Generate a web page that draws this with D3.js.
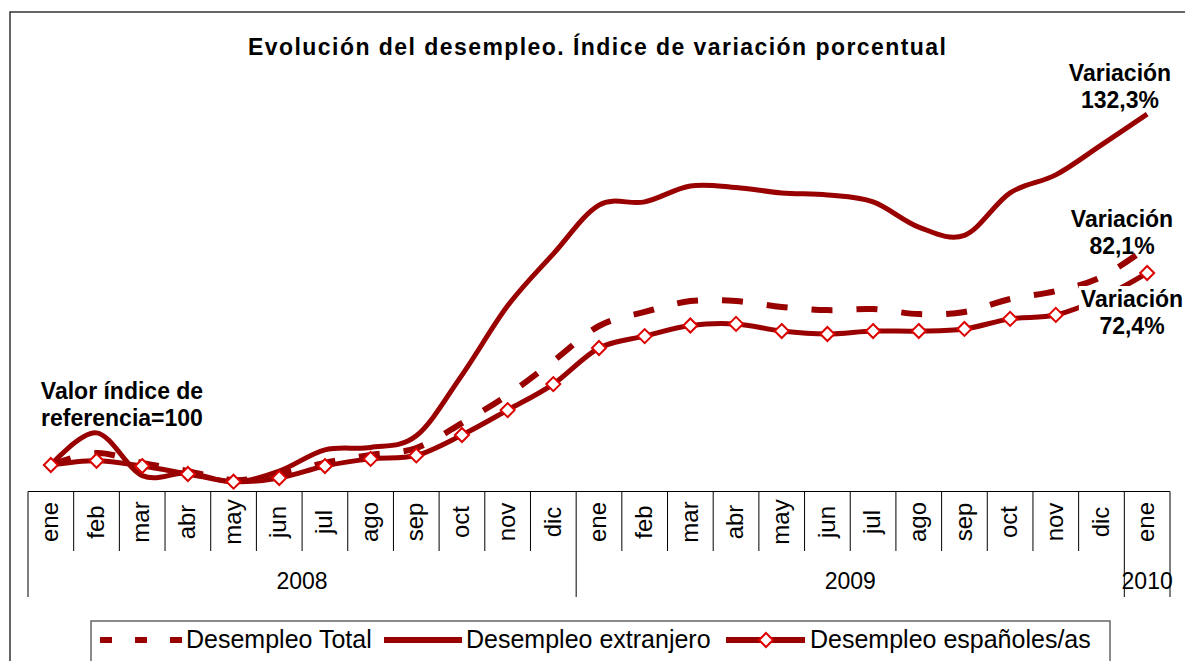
<!DOCTYPE html>
<html>
<head>
<meta charset="utf-8">
<script src="https://cdn.jsdelivr.net/npm/d3@7"></script>
<style>
body{margin:0;background:#fff;}
svg{display:block;font-family:Arial,"Liberation Sans",sans-serif;}
</style>
</head>
<body>
<svg id="chart" width="1185" height="661"></svg>
<script>
// datos (indice, ene 2008 = 100)
var months = ["ene","feb","mar","abr","may","jun","jul","ago","sep","oct","nov","dic",
              "ene","feb","mar","abr","may","jun","jul","ago","sep","oct","nov","dic","ene"];
var yearLabels = ["2008","2009","2010"];
var yearStarts = [0,12,24];
var seriesNames = ["Desempleo Total","Desempleo extranjero","Desempleo españoles/as"];
var total =      [100,104.5,100.8,97.7,94.3,96.6,100.8,103.8,106.4,115.8,126.4,139.2,
                  152.4,157.7,161.8,161.8,159.6,158.4,158.8,156.9,157.7,162.6,165.6,170.9,182.1];
var extranjero = [100,112.1,96.0,97.0,93.6,97.7,105.7,106.6,111.0,133.9,160.0,179.6,
                  198.0,199.2,205.2,204.6,202.6,201.8,199.2,189.7,186.6,202.6,209.4,220.7,232.3];
var espanoles =  [100,101.6,99.6,96.6,93.7,95.1,99.6,102.3,103.6,111.3,120.7,130.5,
                  144.1,148.6,152.6,153.2,150.5,149.4,150.5,150.5,151.3,155.1,156.6,163.0,172.4];
var variaciones = ["132,3%","82,1%","72,4%"];

var darkRed = "#990000", markRed = "#dd0000";

var svg = d3.select('#chart');

var x = d3.scaleBand().domain(d3.range(months.length)).range([28,1170]);
var y = d3.scaleLinear().domain([90,240]).range([491.5,93.7]);
function cx(i){ return x(i) + x.bandwidth()/2; }
function edge(i){ return i < months.length ? x(i) : x.range()[1]; }

// marco exterior
svg.append('rect')
	.attr('x',10).attr('y',12).attr('width',1200).attr('height',700)
	.attr('fill','none').attr('stroke','#333').attr('stroke-width',1.5);

svg.append('text')
	.attr('x',597).attr('y',55)
	.attr('text-anchor','middle')
	.attr('font-weight','bold').attr('font-size',23)
	.attr('textLength',698).attr('lengthAdjust','spacing')
	.text("Evolución del desempleo. Índice de variación porcentual");

// eje de categorias
var axisY = y(90);
var axis = svg.append('g').attr('class','x axis');
axis.append('line')
	.attr('x1',x.range()[0]).attr('x2',x.range()[1])
	.attr('y1',axisY).attr('y2',axisY)
	.attr('stroke','#000');
axis.selectAll('.tick')
	.data(d3.range(months.length+1))
	.enter().append('line')
	.attr('class','tick')
	.attr('x1',function(i){ return edge(i) }).attr('x2',function(i){ return edge(i) })
	.attr('y1',axisY)
	.attr('y2',function(i){ return (yearStarts.indexOf(i) >= 0 || i === months.length) ? 597 : 551 })
	.attr('stroke','#000');
axis.selectAll('.month')
	.data(months)
	.enter().append('text')
	.attr('class','month')
	.attr('transform',function(d,i){ return 'translate(' + cx(i) + ',522) rotate(-90)' })
	.attr('dy','0.3em')
	.attr('text-anchor','middle')
	.attr('font-size',24)
	.text(function(d){ return d });
axis.selectAll('.year')
	.data(yearLabels)
	.enter().append('text')
	.attr('class','year')
	.attr('x',function(d,i){
		var end = i+1 < yearStarts.length ? yearStarts[i+1] : months.length;
		return (edge(yearStarts[i]) + edge(end))/2;
	})
	.attr('y',589)
	.attr('text-anchor','middle')
	.attr('font-size',23)
	.text(function(d){ return d });

// series
var line = d3.line()
	.x(function(d,i){ return cx(i) })
	.y(function(d){ return y(d) })
	.curve(d3.curveCardinal.tension(0));

svg.append('path').datum(total)
	.attr('d',line).attr('fill','none')
	.attr('stroke',darkRed).attr('stroke-width',6)
	.attr('stroke-dasharray','21,24');
svg.append('path').datum(extranjero)
	.attr('d',line).attr('fill','none')
	.attr('stroke',darkRed).attr('stroke-width',5);
svg.append('path').datum(espanoles)
	.attr('d',line).attr('fill','none')
	.attr('stroke',darkRed).attr('stroke-width',5);

var diamond = "M0,-7L7,0L0,7L-7,0Z";
svg.selectAll('.mark')
	.data(espanoles)
	.enter().append('path')
	.attr('class','mark')
	.attr('transform',function(d,i){ return 'translate(' + cx(i) + ',' + y(d) + ')' })
	.attr('d',diamond)
	.attr('fill','#fff').attr('stroke',markRed).attr('stroke-width',2);

// anotaciones
function note(lines, px, py, bg){
	var g = svg.append('g');
	var t = g.append('text')
		.attr('text-anchor','middle')
		.attr('font-weight','bold').attr('font-size',23);
	lines.forEach(function(s,k){
		t.append('tspan').attr('x',px).attr('y',py + k*27).text(s);
	});
	if(bg){
		var b = t.node().getBBox();
		g.insert('rect','text')
			.attr('x',b.x-2).attr('y',b.y).attr('width',b.width+4).attr('height',b.height)
			.attr('fill','#fff');
	}
}
note(["Valor índice de","referencia=100"], 122, 399);
note(["Variación",variaciones[0]], 1120, 81);
note(["Variación",variaciones[1]], 1122, 227);
note(["Variación",variaciones[2]], 1132, 307, true);

// leyenda
var lg = svg.append('g');
lg.append('rect')
	.attr('x',91).attr('y',621).attr('width',1019).attr('height',80)
	.attr('fill','#fff').attr('stroke','#666').attr('stroke-width',1.5);
var ly = 640, lt = 648;
lg.append('line').attr('x1',100).attr('x2',182).attr('y1',ly).attr('y2',ly)
	.attr('stroke',darkRed).attr('stroke-width',6).attr('stroke-dasharray','12,23');
lg.append('text').attr('x',186).attr('y',lt).attr('font-size',25).text(seriesNames[0]);
lg.append('line').attr('x1',384).attr('x2',462).attr('y1',ly).attr('y2',ly)
	.attr('stroke',darkRed).attr('stroke-width',6);
lg.append('text').attr('x',466).attr('y',lt).attr('font-size',25).text(seriesNames[1]);
lg.append('line').attr('x1',726).attr('x2',805).attr('y1',ly).attr('y2',ly)
	.attr('stroke',darkRed).attr('stroke-width',6);
lg.append('path').attr('transform','translate(766,' + ly + ')').attr('d',diamond)
	.attr('fill','#fff').attr('stroke',markRed).attr('stroke-width',2);
lg.append('text').attr('x',810).attr('y',lt).attr('font-size',25).text(seriesNames[2]);
</script>
</body>
</html>
